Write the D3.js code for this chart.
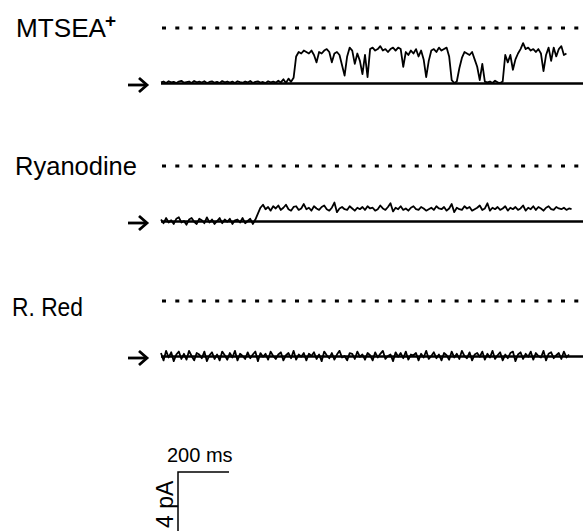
<!DOCTYPE html>
<html>
<head>
<meta charset="utf-8">
<script src="https://cdn.jsdelivr.net/npm/d3@7"></script>
<style>
  body { margin: 0; background: #fff; }
  svg text { font-family: "Liberation Sans", Arial, sans-serif; fill: #000; }
</style>
</head>
<body>
<div id="chart"></div>
<script>
// sample interval of the traces, ms
var dt = 10;

var labels = ["MTSEA", "Ryanodine", "R. Red"];

// current in pA, one value every dt ms
var mtsea = [0.05,0.1,0.0,0.12,0.04,0.08,0.0,0.1,0.15,0.02,
  0.06,0.1,0.0,0.14,0.05,0.09,0.03,0.12,0.0,0.07,
  0.11,0.02,0.08,0.0,0.13,0.05,0.1,0.03,0.09,0.0,
  0.12,0.06,0.02,0.1,0.04,0.14,0.0,0.08,0.11,0.03,
  0.07,0.0,0.12,0.05,0.09,0.02,0.15,0.04,0.25,0.0,
  0.3,0.08,0.35,
  1.8,2.1,2.0,2.2,2.1,2.0,2.2,1.9,1.4,2.1,2.0,2.2,2.3,2.1,1.4,2.0,2.1,1.9,1.2,0.5,
  1.8,2.4,2.2,1.3,2.0,1.5,0.6,1.9,0.4,2.3,
  2.4,2.2,2.3,2.5,2.2,2.3,2.1,2.3,2.4,2.2,2.4,2.3,
  1.1,2.1,1.9,2.2,2.0,2.3,1.8,2.2,1.6,0.4,1.5,
  2.2,2.3,2.1,2.4,2.2,2.3,2.4,1.8,0.2,0.0,0.1,1.0,1.7,
  2.1,2.0,1.9,2.1,1.6,1.1,0.2,1.3,0.1,
  0.05,0.1,0.0,0.15,0.05,0.0,0.1,
  1.9,1.4,1.9,0.9,1.6,2.0,2.3,2.7,2.3,2.4,2.2,2.3,2.1,2.3,2.0,0.8,1.9,2.4,1.5,2.4,
  1.8,2.3,2.5,1.9,2.0];

var ryanodine = [0.1,-0.15,0.2,-0.1,0.05,-0.2,0.15,0.25,-0.1,0.0,
  -0.25,0.1,0.2,-0.05,-0.2,0.15,0.05,-0.15,0.25,-0.1,
  0.1,-0.2,0.0,0.2,-0.15,0.1,-0.05,0.15,-0.2,0.05,
  0.1,-0.1,0.2,-0.15,0.0,0.15,-0.2,0.1,
  0.5,0.9,1.1,0.8,0.95,0.7,1.0,0.85,1.05,0.75,0.9,1.1,0.8,0.7,0.95,1.0,0.75,0.85,1.15,0.8,
  0.9,0.7,1.0,0.85,0.75,0.95,1.05,0.8,0.7,0.9,1.25,0.6,0.85,0.95,0.8,0.75,1.0,0.85,0.7,0.9,
  0.8,0.95,0.75,1.0,0.85,0.9,0.7,0.8,1.05,0.85,0.75,0.95,1.2,0.65,0.9,0.8,1.0,0.75,0.85,0.7,
  0.9,1.0,0.8,0.75,0.95,0.85,0.7,0.8,0.9,0.75,1.0,0.85,0.8,0.95,0.7,0.85,1.15,0.6,0.9,0.8,
  0.75,1.0,0.85,0.95,0.7,0.8,0.9,1.05,0.75,0.85,1.2,0.7,0.9,0.8,0.95,0.75,0.85,1.0,0.7,0.9,
  0.8,0.95,0.75,0.85,1.05,0.7,0.9,0.8,1.0,0.75,0.95,0.85,0.7,0.9,1.0,0.8,0.75,0.95,0.85,0.8,
  0.9,0.75,0.85,0.8];

var rred = [0.2,-0.3,0.35,-0.1,0.25,-0.35,0.1,0.3,-0.2,0.15,-0.25,0.35,0.0,-0.3,0.2,0.1,-0.15,0.3,-0.35,0.05,
  0.25,-0.2,0.1,-0.3,0.3,0.05,-0.25,0.2,-0.1,0.35,-0.3,0.15,0.0,-0.2,0.25,-0.15,0.1,0.3,-0.35,0.2,
  -0.05,0.15,-0.25,0.3,0.0,-0.2,0.1,0.25,-0.3,0.05,0.2,-0.15,0.35,-0.25,0.1,-0.05,0.2,-0.3,0.15,0.0,
  0.25,-0.2,0.1,-0.35,0.3,0.05,-0.15,0.2,-0.25,0.1,0.35,-0.1,0.0,-0.3,0.2,0.15,-0.2,0.3,-0.05,0.1,
  -0.25,0.2,0.05,-0.3,0.25,-0.1,0.15,0.35,-0.2,0.0,0.1,-0.35,0.25,-0.05,0.2,-0.15,0.3,-0.25,0.1,0.05,
  0.2,-0.3,0.15,-0.1,0.35,-0.2,0.0,0.25,-0.15,0.1,-0.3,0.2,0.05,-0.25,0.3,-0.1,0.15,-0.2,0.35,0.0,
  -0.15,0.25,-0.3,0.1,0.2,-0.05,0.3,-0.25,0.15,-0.1,0.35,-0.2,0.05,0.25,-0.3,0.1,-0.15,0.2,0.3,-0.35,
  0.1,0.25,-0.2,0.15,-0.05,0.3,-0.25,0.2,0.0,-0.1,0.35,-0.3,0.15,0.25,-0.15,0.05,0.2,-0.2,0.3,-0.1,
  0.1];

var traces = [mtsea, ryanodine, rred];

// full open level (dotted line) and scale bar sizes
var fullLevel = 3.73;
var barTime = 200, barCurrent = 4;

var w = 583, h = 531;
var base = [83, 221, 356];   // closed level of each row
var labelY = [37, 175, 316];
var labelX = [16, 15, 12];
var labelW = [90, 122, 71];

var svg = d3.select("#chart").append("svg")
  .attr("width", w)
  .attr("height", h);

var x = d3.scaleLinear()
  .domain([0, 1600])
  .range([161, 569]);

var pxPerPA = 14.75;

traces.forEach(function(data, k){
  var y = d3.scaleLinear()
    .domain([0, barCurrent])
    .range([base[k], base[k] - barCurrent * pxPerPA]);

  var g = svg.append("g");

  // dotted full-open level
  g.append("line")
    .attr("x1", 162).attr("x2", 580)
    .attr("y1", y(fullLevel)).attr("y2", y(fullLevel))
    .attr("stroke", "#000")
    .attr("stroke-width", 3)
    .attr("stroke-dasharray", "4,9.3");

  // closed level
  g.append("line")
    .attr("x1", 161).attr("x2", w)
    .attr("y1", y(0) + 0.5).attr("y2", y(0) + 0.5)
    .attr("stroke", "#000")
    .attr("stroke-width", 2.5);

  var line = d3.line()
    .x(function(d, i){ return x(i * dt) })
    .y(function(d){ return y(d) });

  g.append("path")
    .datum(data)
    .attr("d", line)
    .attr("fill", "none")
    .attr("stroke", "#000")
    .attr("stroke-width", 1.8)
    .attr("stroke-linejoin", "round");

  // arrow pointing at closed level
  var ay = y(0) + 2;
  g.append("line")
    .attr("x1", 128).attr("x2", 147)
    .attr("y1", ay).attr("y2", ay)
    .attr("stroke", "#000").attr("stroke-width", 2.8);
  g.append("path")
    .attr("d", "M139," + (ay - 7) + "L147," + ay + "L139," + (ay + 7))
    .attr("fill", "none")
    .attr("stroke", "#000").attr("stroke-width", 2.8);

  g.append("text")
    .attr("x", labelX[k])
    .attr("y", labelY[k])
    .attr("textLength", labelW[k])
    .attr("lengthAdjust", "spacingAndGlyphs")
    .style("font-size", "25px")
    .text(labels[k]);
});

// superscript on MTSEA
svg.append("text")
  .attr("x", 105).attr("y", 27)
  .style("font-size", "19px")
  .style("font-weight", "bold")
  .text("+");

// scale bar
var sx0 = 178, sy0 = 472;
var sy = d3.scaleLinear().domain([0, barCurrent]).range([sy0, sy0 + barCurrent * pxPerPA]);
var bar = svg.append("g");
bar.append("path")
  .attr("d", "M" + (sx0 + x(barTime) - x(0)) + "," + sy0 + "H" + sx0 + "V" + sy(barCurrent))
  .attr("fill", "none")
  .attr("stroke", "#000")
  .attr("stroke-width", 1.5);
bar.append("text")
  .attr("x", 167).attr("y", 462)
  .style("font-size", "20px")
  .text(barTime + " ms");
bar.append("text")
  .attr("transform", "translate(173,528) rotate(-90)")
  .style("font-size", "23px")
  .text(barCurrent + " pA");
</script>
</body>
</html>
